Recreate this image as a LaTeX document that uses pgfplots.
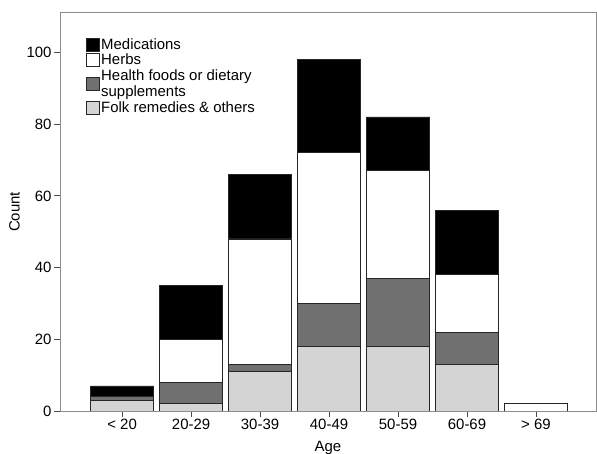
\documentclass[border=0pt]{standalone}
\usepackage{fontspec}
\setmainfont{Liberation Sans}
\usepackage{pgfplots}
\usepackage{pgfplotstable}
\pgfplotsset{compat=1.18}

\definecolor{healthgray}{HTML}{707070}
\definecolor{folkgray}{HTML}{D4D4D4}
\definecolor{axisgray}{HTML}{8C8C8C}

% columns: position, then the four stacked segments from the bottom
\pgfplotstableread{
x folk health herbs meds
0 3  1  0  3
1 2  6  12 15
2 11 2  35 18
3 18 12 42 26
4 18 19 30 15
5 13 9  16 18
6 0  0  2  0
}\agedata

\begin{document}
\begin{tikzpicture}[font=\fontsize{15}{16}\selectfont]
\path[use as bounding box] (-60bp,-43bp) rectangle (537bp,411bp);
\begin{axis}[
    at={(0,0)}, anchor=south west,
    scale only axis,
    width=536bp, height=398bp,
    ybar stacked,
    bar width=0.92,
    xmin=-0.9, xmax=6.87,
    ymin=0, ymax=111,
    xtick={0,...,6},
    xticklabels={< 20,20-29,30-39,40-49,50-59,60-69,> 69},
    ytick={0,20,...,100},
    tick align=outside,
    tick pos=left,
    major tick length=6bp,
    axis line style={axisgray, line width=1pt},
    tick style={black!70, line width=0.8pt},
    /pgf/number format/assume math mode=true,
    yticklabel style={xshift=1bp},
    xticklabel style={yshift=1bp},
    xlabel={Age}, ylabel={Count},
    every axis x label/.style={at={(axis description cs:0.5,-0.093)}, anchor=center},
    every axis y label/.style={at={(axis description cs:-0.085,0.5)}, rotate=90, anchor=center},
    legend style={at={(0.0485,0.94)}, anchor=north west, draw=none, fill=none,
        inner sep=0pt, row sep=1bp, cells={align=left, anchor=west},
        nodes={inner sep=1.2bp}},
    legend image code/.code={\draw[#1, draw=black!85, line width=0.8pt] (0bp,-6.5bp) rectangle (13bp,6.5bp);},
    reverse legend,
]
\addplot[fill=folkgray, draw=black!85, line width=0.7pt] table[x=x, y=folk] {\agedata};
\addplot[fill=healthgray, draw=black!85, line width=0.7pt] table[x=x, y=health] {\agedata};
\addplot[fill=white, draw=black!85, line width=0.7pt] table[x=x, y=herbs] {\agedata};
\addplot[fill=black, draw=black!85, line width=0.7pt] table[x=x, y=meds] {\agedata};
\legend{Folk remedies \& others, Health foods or dietary\\supplements, Herbs, Medications}
\end{axis}
\end{tikzpicture}
\end{document}
